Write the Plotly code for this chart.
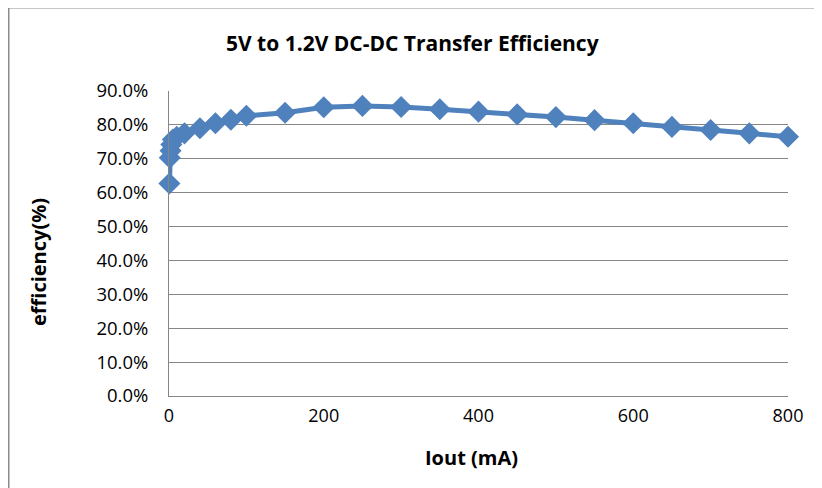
import plotly.graph_objects as go

title_text = "5V to 1.2V DC-DC Transfer Efficiency"
x_title = "Iout (mA)"
y_title = "efficiency(%)"

iout_ma = [0.5, 1, 2, 3, 5, 10, 20, 40, 60, 80, 100, 150, 200, 250, 300, 350,
           400, 450, 500, 550, 600, 650, 700, 750, 800]
efficiency = [0.627, 0.703, 0.724, 0.742, 0.757, 0.765, 0.775, 0.790, 0.805, 0.815,
              0.827, 0.836, 0.852, 0.856, 0.853, 0.846, 0.839, 0.831, 0.823, 0.814,
              0.805, 0.794, 0.785, 0.775, 0.765]

y_ticks = [0.0, 0.1, 0.2, 0.3, 0.4, 0.5, 0.6, 0.7, 0.8, 0.9]
x_ticks = [0, 200, 400, 600, 800]

OFF = 8  # page body margin
W, H = 822 - OFF, 488 - OFF
L, R, T, B = 169 - OFF, 34, 91 - OFF, 92
pw, ph = W - L - R, H - T - B

def px_x(x):
    return (x - OFF - L) / pw

def px_y(y):
    return (H - B - (y - OFF)) / ph

color = "#4F81BD"
grid = "#868686"
font = "Open Sans"

fig = go.Figure()
fig.add_trace(go.Scatter(
    x=iout_ma, y=efficiency, mode="lines+markers",
    line=dict(color=color, width=5),
    marker=dict(symbol="diamond", size=17, color=color),
    showlegend=False, cliponaxis=False,
))

fig.update_layout(
    width=W, height=H,
    margin=dict(l=L, r=R, t=T, b=B),
    paper_bgcolor="white", plot_bgcolor="white",
    font=dict(family=font, color="black", size=18),
    xaxis=dict(range=[0, 800], tickvals=x_ticks, ticktext=[str(v) for v in x_ticks],
               showgrid=False, zeroline=False, showline=True, linecolor=grid, linewidth=1,
               ticks="", ticklabelstandoff=3, tickfont=dict(size=18, family=font)),
    yaxis=dict(range=[0, 0.9], tickvals=y_ticks, tickformat=".1%",
               showgrid=True, gridcolor=grid, gridwidth=1, zeroline=False,
               showline=True, linecolor=grid, linewidth=1,
               ticks="", ticklabelstandoff=16, tickfont=dict(size=18.5, family=font)),
    annotations=[
        dict(text="<b>%s</b>" % title_text, xref="paper", yref="paper",
             x=px_x(412), y=px_y(43), xanchor="center", yanchor="middle",
             showarrow=False, font=dict(size=21, family=font)),
        dict(text="<b>%s</b>" % x_title, xref="paper", yref="paper",
             x=px_x(471), y=px_y(457), xanchor="center", yanchor="middle",
             showarrow=False, font=dict(size=20, family=font)),
        dict(text="<b>%s</b>" % y_title, xref="paper", yref="paper", textangle=-90,
             x=px_x(38), y=px_y(262), xanchor="center", yanchor="middle",
             showarrow=False, font=dict(size=20, family=font)),
    ],
    shapes=[
        dict(type="rect", xref="paper", yref="paper",
             x0=px_x(8.5), x1=px_x(850),
             y0=px_y(520), y1=px_y(7.5),
             line=dict(color="#8C8C8C", width=2), fillcolor="rgba(0,0,0,0)", layer="below"),
    ],
)

fig.write_html("out.html")
